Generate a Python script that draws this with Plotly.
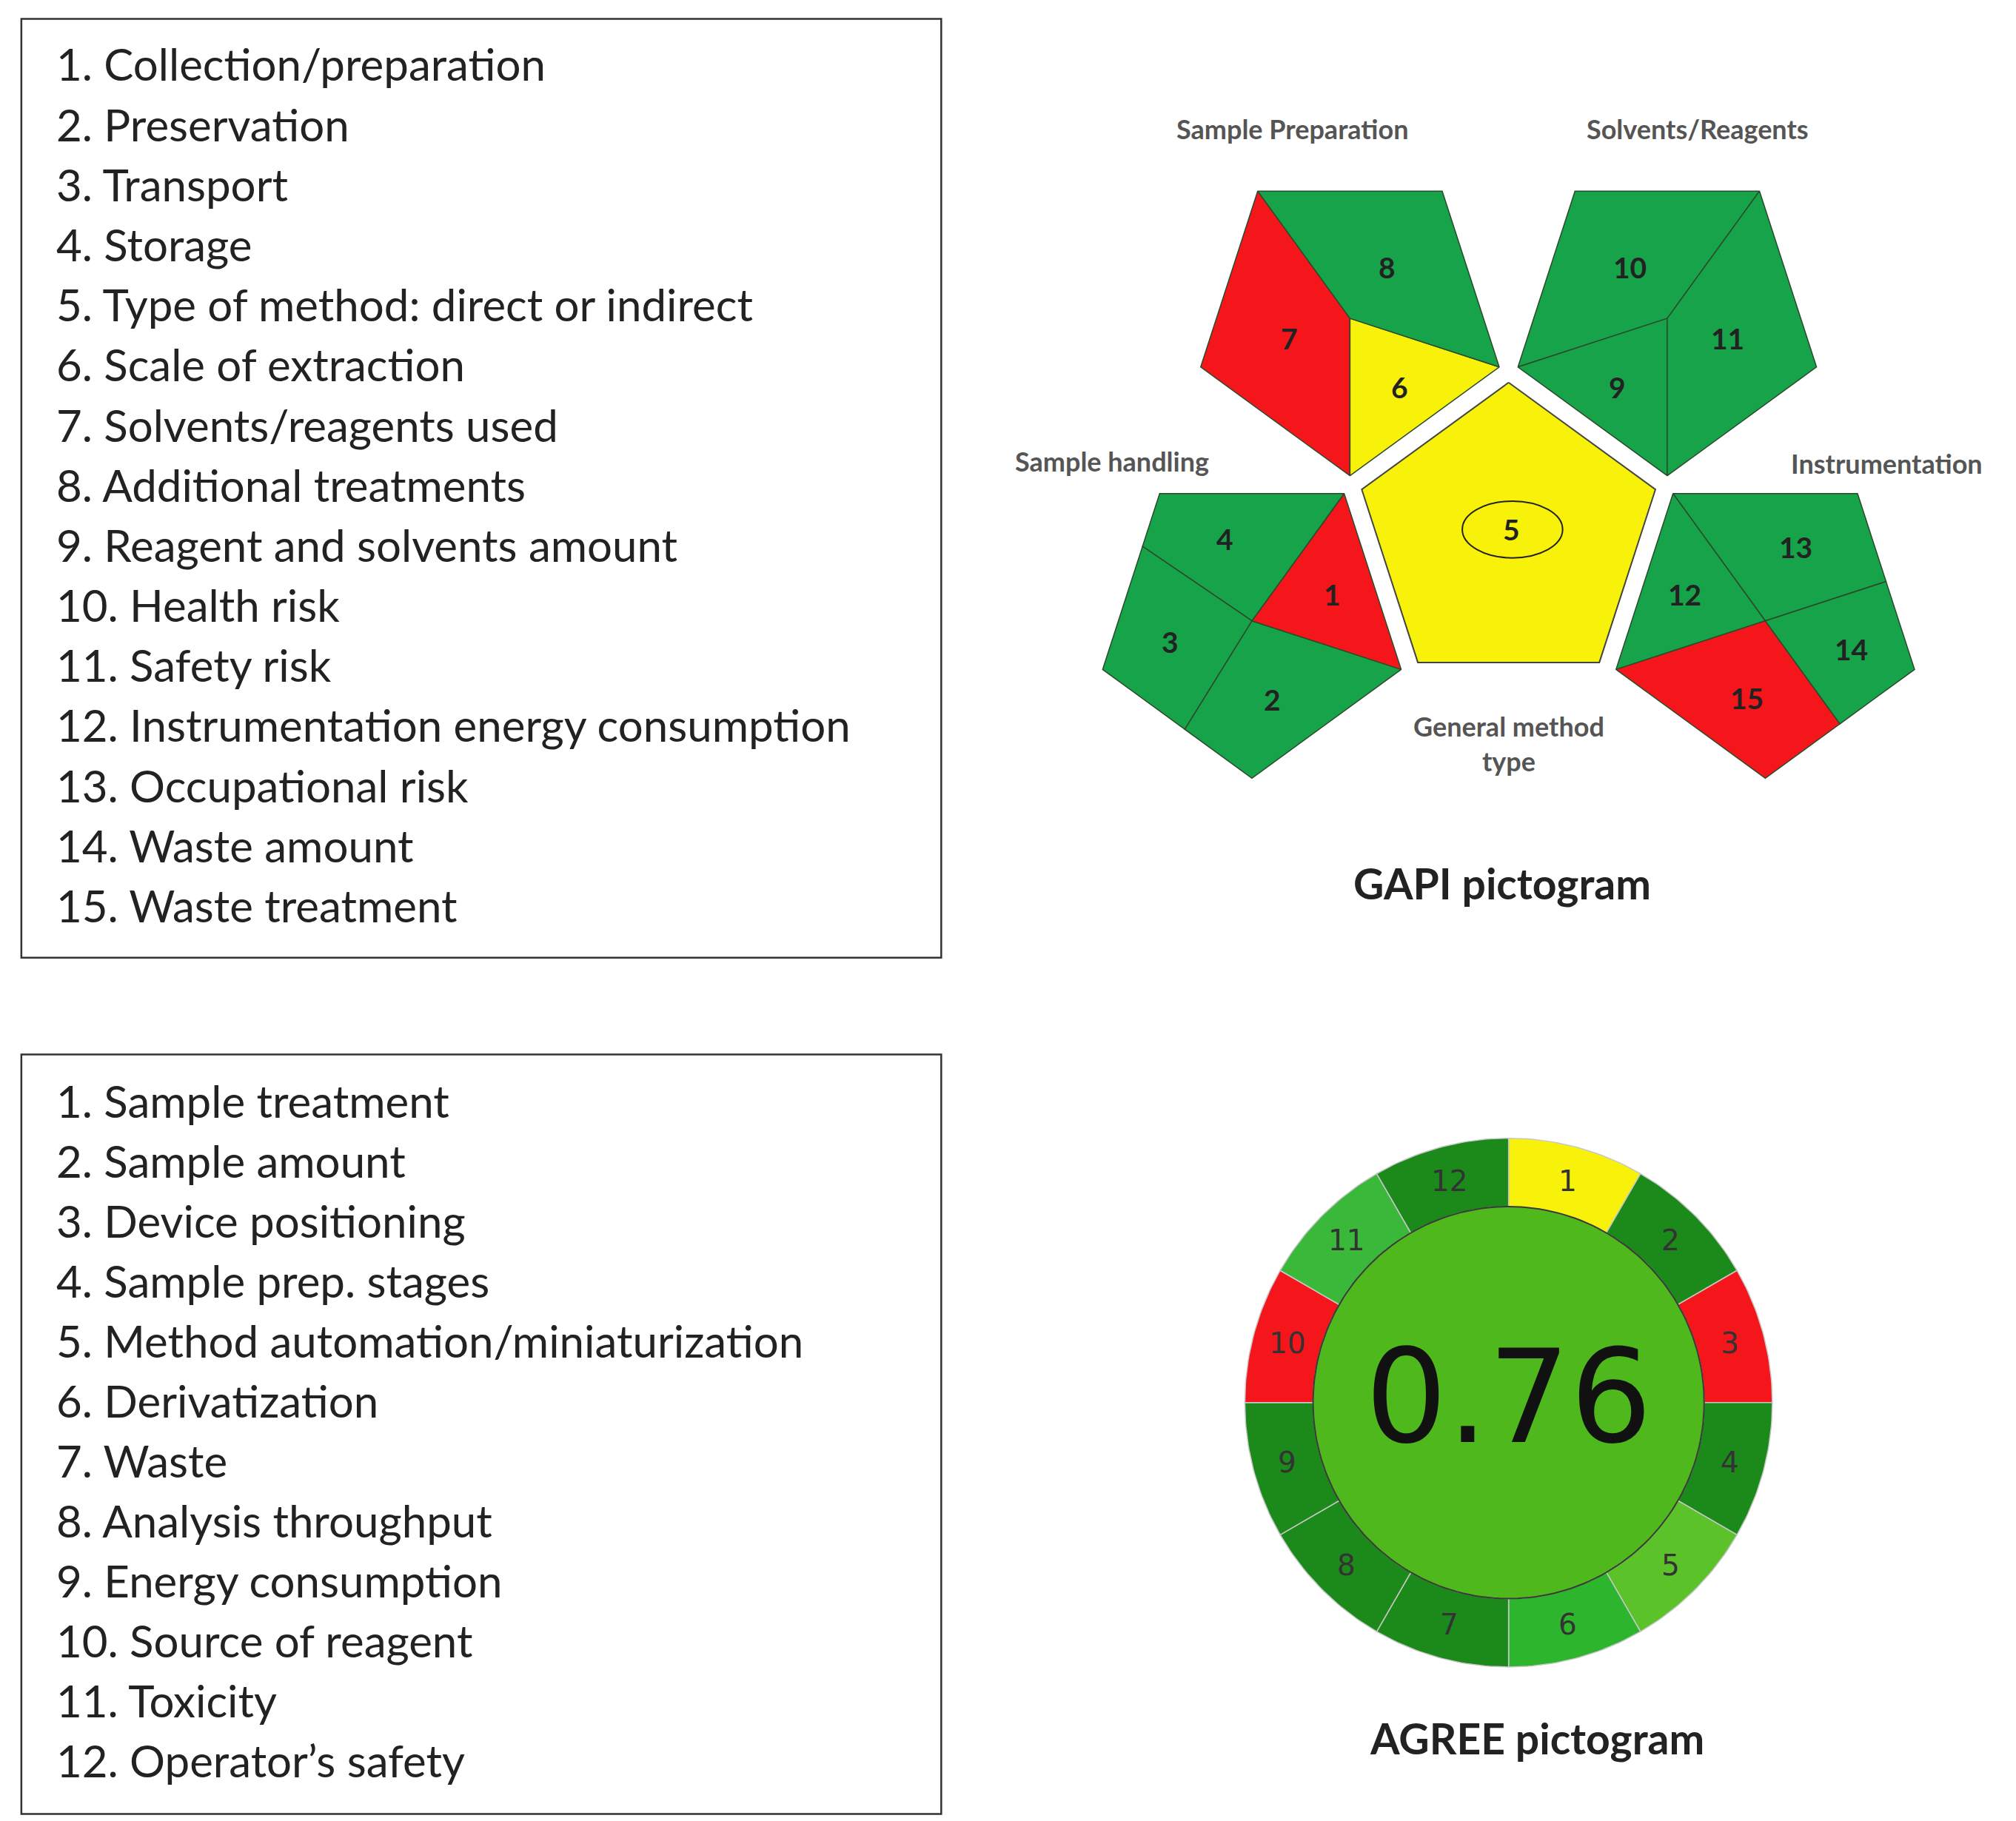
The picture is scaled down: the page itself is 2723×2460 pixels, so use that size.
import numpy as np
import plotly.graph_objects as go

W, H = 1567, 1412
S = 3.0

gapi_items = ["Collection/preparation", "Preservation", "Transport", "Storage",
              "Type of method: direct or indirect", "Scale of extraction",
              "Solvents/reagents used", "Additional treatments", "Reagent and solvents amount",
              "Health risk", "Safety risk", "Instrumentation energy consumption",
              "Occupational risk", "Waste amount", "Waste treatment"]
agree_items = ["Sample treatment", "Sample amount", "Device positioning", "Sample prep. stages",
               "Method automation/miniaturization", "Derivatization", "Waste",
               "Analysis throughput", "Energy consumption", "Source of reagent", "Toxicity",
               "Operator’s safety"]

G, R, Y = "#16a34a", "#f5161c", "#f8f20a"
gapi_groups = [
    ("Sample Preparation", 126, [0, 2, 3], ["7", "6", "8"], [R, Y, G]),
    ("Solvents/Reagents", 54, [0, 2, 3], ["10", "9", "11"], [G, G, G]),
    ("Sample handling", 198, [0.55, 2, 3, 4.3], ["2", "1", "4", "3"], [G, R, G, G]),
    ("Instrumentation", 342, [0.5, 2, 3, 4.5], ["13", "12", "15", "14"], [G, G, R, G]),
]
gapi_center_label = "5"

DG, LG, MG = "#1b8a1b", "#5cc22a", "#2db52d"
agree_labels = [str(i) for i in range(1, 13)]
agree_colors = [Y, DG, R, DG, LG, MG, DG, DG, DG, R, "#3ab83a", DG]
agree_score = "0.76"

fig = go.Figure()
ann = []

def poly(xs, ys, fill, line="#2b4a2b", w=1.5):
    xs = list(xs) + [xs[0]]; ys = list(ys) + [ys[0]]
    fig.add_trace(go.Scatter(x=xs, y=ys, fill="toself", fillcolor=fill, mode="lines",
                             line=dict(color=line, width=w), hoverinfo="skip", showlegend=False))

def txt(x, y, t, size, color="#222", xanchor="center", family="Lato"):
    ann.append(dict(x=x, y=y, text=t, showarrow=False, xanchor=xanchor, yanchor="middle",
                    font=dict(size=size * S, color=color, family=family)))

for (x0, y0, x1, y1) in [(12, 10, 727, 738), (12, 813, 727, 1402)]:
    fig.add_shape(type="rect", x0=x0, y0=y0, x1=x1, y1=y1, line=dict(color="#333", width=2.5))
for i, t in enumerate(gapi_items):
    txt(38, 45 + i * 46.6, f"{i+1}. {t}", 20, xanchor="left")
for i, t in enumerate(agree_items):
    txt(38, 849 + i * 46.5, f"{i+1}. {t}", 20, xanchor="left")

C = (1168, 412); Rc = 120; Ro = 122
def pent(cx, cy, r, a0):
    return [(cx + r * np.cos(np.radians(a0 + 72 * k)), cy - r * np.sin(np.radians(a0 + 72 * k))) for k in range(5)]
cv = pent(C[0], C[1], Rc, 90)
poly([p[0] for p in cv], [p[1] for p in cv], Y, line="#444", w=2)
fig.add_shape(type="circle", x0=1132, y0=384, x1=1210, y1=428, line=dict(color="#222", width=2))
txt(1170, 406, f"<b>{gapi_center_label}</b>", 13, color="#222")
dist = Rc * np.cos(np.radians(36)) + 14 + Ro * np.cos(np.radians(36))
label_pos = {"Sample Preparation": (1000, 95), "Solvents/Reagents": (1315, 95),
             "Sample handling": (860, 353), "Instrumentation": (1462, 355)}
for name, phi, cuts, labs, cols in gapi_groups:
    ox = C[0] + dist * np.cos(np.radians(phi)); oy = C[1] - dist * np.sin(np.radians(phi))
    v = pent(ox, oy, Ro, phi)
    def P(t):
        k = int(np.floor(t)); f = t - k
        a = np.array(v[k % 5]); b = np.array(v[(k + 1) % 5])
        return tuple(a + f * (b - a))
    for j in range(len(cuts)):
        ta = cuts[j]; tb = cuts[(j + 1) % len(cuts)]
        if tb <= ta: tb += 5
        pts = [P(ta)] + [P(k) for k in range(int(np.floor(ta)) + 1, int(np.ceil(tb)))] + [P(tb)]
        full = [(ox, oy)] + pts
        poly([p[0] for p in full], [p[1] for p in full], cols[j])
        mx = np.mean([p[0] for p in full]); my = np.mean([p[1] for p in full])
        txt(mx, my, f"<b>{labs[j]}</b>", 13, color="#222")
    lx, ly = label_pos[name]
    txt(lx, ly, f"<b>{name}</b>", 12, color="#555")
txt(1168, 572, "<b>General method<br>type</b>", 12, color="#555")
txt(1163, 680, "<b>GAPI pictogram</b>", 19, color="#222")

ac = (1168, 1083); rin, rout = 152, 205
for k in range(12):
    th = np.radians(np.linspace(30 * k, 30 * (k + 1), 30))
    xs = list(ac[0] + rout * np.sin(th)) + list(ac[0] + rin * np.sin(th[::-1]))
    ys = list(ac[1] - rout * np.cos(th)) + list(ac[1] - rin * np.cos(th[::-1]))
    poly(xs, ys, agree_colors[k], line="#c8c8c8", w=1.5)
    m = np.radians(30 * k + 15)
    txt(ac[0] + 178 * np.sin(m), ac[1] - 178 * np.cos(m), agree_labels[k], 13, color="#333", family="DejaVu Sans")
th = np.linspace(0, 2 * np.pi, 200)
poly(list(ac[0] + rin * np.sin(th)), list(ac[1] - rin * np.cos(th)), "#4fb81c", line="#3a3a3a", w=2)
txt(ac[0], ac[1] - 4, agree_score, 58, color="#111", family="DejaVu Sans")
txt(1190, 1343, "<b>AGREE pictogram</b>", 19, color="#222")

fig.update_layout(width=2723, height=2460, margin=dict(l=0, r=0, t=0, b=0),
                  plot_bgcolor="white", paper_bgcolor="white", annotations=ann,
                  xaxis=dict(range=[0, W], visible=False, fixedrange=True),
                  yaxis=dict(range=[H, 0], visible=False, fixedrange=True))
fig.write_html("out.html")
